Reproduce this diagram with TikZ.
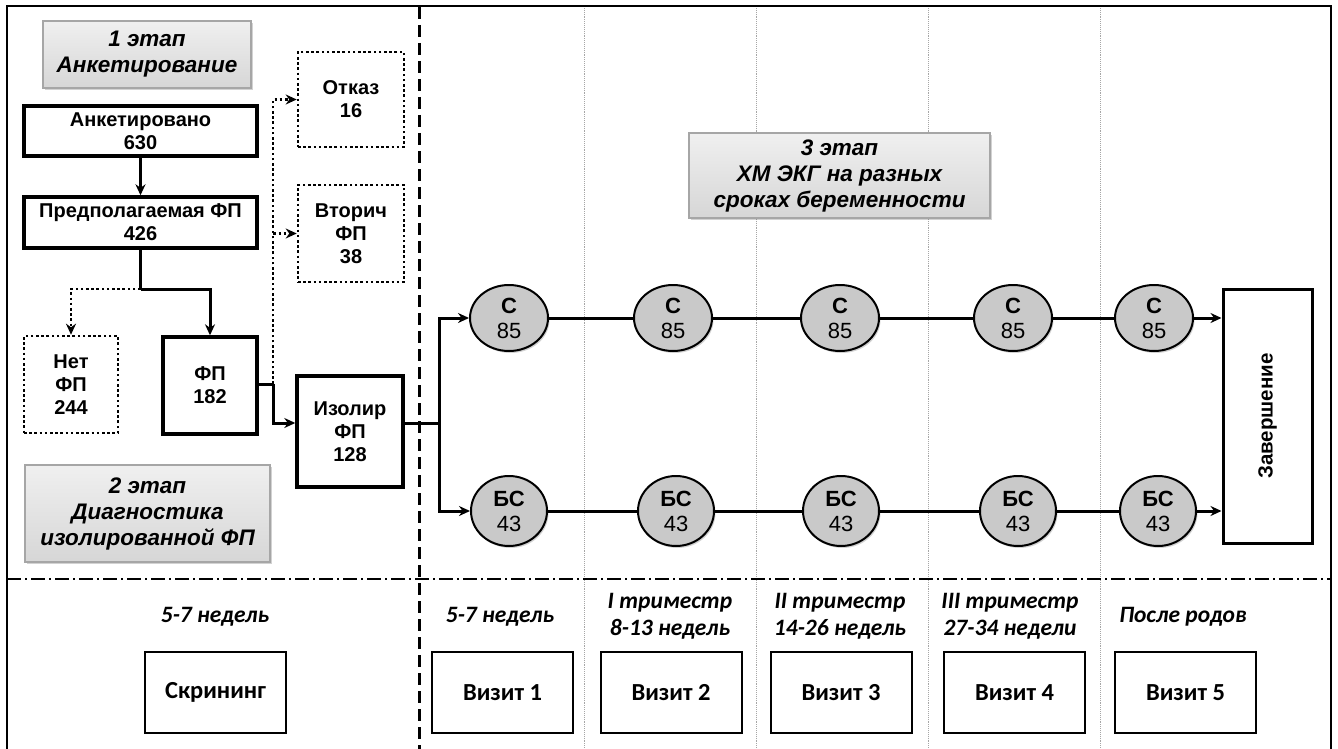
\documentclass[tikz,border=0pt]{standalone}
\usepackage{fontspec}
\setmainfont{Liberation Sans}
\newfontfamily\carl{Carlito}
\usetikzlibrary{shapes.geometric,shadows,arrows.meta,calc}
\tikzset{
  box/.style={draw, line width=3.4pt, align=center, inner sep=1pt, font=\fontsize{20}{23}\selectfont\bfseries},
  dbox/.style={box, line width=2.6pt, dash pattern=on 2.6pt off 2.6pt},
  stage/.style={draw=gray!70, line width=1.4pt, top color=gray!12, bottom color=gray!32, align=center, inner sep=1pt,
     font=\fontsize{22.5}{26}\selectfont\bfseries\itshape, drop shadow={shadow xshift=2pt, shadow yshift=-2pt, opacity=0.35}},
  ell/.style={ellipse, draw, line width=2pt, fill=gray!42, inner sep=0pt, minimum width=78pt, minimum height=66pt, align=center,
     font=\fontsize{22}{25}\selectfont, preaction={draw=white, line width=6pt},
     drop shadow={shadow xshift=1.5pt, shadow yshift=-2pt, opacity=0.35}},
  ellb/.style={ell, minimum width=76pt, minimum height=70pt},
  conn/.style={line width=3pt},
  arr/.style={conn, -{Stealth[length=11pt,width=10pt]}},
  darr/.style={line width=2.6pt, dash pattern=on 2.6pt off 2.6pt, -{Stealth[length=11pt,width=10pt]}},
  vbox/.style={draw, line width=2pt, minimum width=141pt, minimum height=81pt, font=\carl\fontsize{24.5}{28}\selectfont\bfseries},
  lab/.style={align=center, font=\carl\fontsize{23.5}{27}\selectfont\bfseries\itshape},
  gline/.style={gray!70, line width=0.9pt, densely dotted}
}
\begin{document}
\begin{tikzpicture}[x=1pt,y=-1pt]
\useasboundingbox[fill=white] (0,0) rectangle (1338,749);
% grid lines
\foreach \gx in {584,756,928,1100} \draw[gline] (\gx,8) -- (\gx,749);
\draw[line width=3pt, dash pattern=on 12pt off 6pt] (419,7) -- (419,749);
\draw[line width=1.8pt, dash pattern=on 14pt off 4pt on 2pt off 4pt] (7,579) -- (1331,579);
% frame
\draw[line width=2.4pt] (7,749) -- (7,6) -- (1331,6) -- (1331,749);

% stage boxes
\node[stage, minimum width=208pt, minimum height=67pt] (st1) at (147,54.5) {1 этап\\Анкетирование};
\node[stage, minimum width=245pt, minimum height=97pt] (st2) at (147.5,513.5) {2 этап\\Диагностика\\изолированной ФП};
\node[stage, minimum width=301pt, minimum height=85pt] (st3) at (839.5,175.5) {3 этап\\ХМ ЭКГ на разных\\сроках беременности};

% left flow
\node[box, minimum width=233pt, minimum height=50pt] (ank) at (140.5,131) {Анкетировано\\630};
\node[box, minimum width=233pt, minimum height=51pt] (pred) at (140.5,222.5) {Предполагаемая ФП\\426};
\node[dbox, minimum width=94pt, minimum height=97pt] (net) at (71,384.5) {Нет\\ФП\\244};
\node[box, minimum width=94pt, minimum height=97pt] (fp) at (210,385.5) {ФП\\182};
\node[dbox, minimum width=106pt, minimum height=95pt] (otk) at (351,99.5) {Отказ\\16};
\node[dbox, minimum width=106pt, minimum height=97pt] (vtor) at (351,233.5) {Вторич\\ФП\\38};
\node[box, minimum width=106pt, minimum height=111pt] (izo) at (350,431.5) {Изолир\\ФП\\128};

\coordinate (s1) at (140.5,289);
\coordinate (j1) at (273,384);
\coordinate (j3) at (439,423);

\draw[arr] (ank) -- (pred);
\draw[conn] (pred.south) -- (s1);
\draw[arr] (s1) -| (fp.north);
\draw[darr] (s1) -| (net.north);
\draw[conn] (fp.east |- j1) -- (j1);
\draw[arr] (j1) |- ([yshift=8.5pt]izo.west);
\draw[darr] (j1) |- (otk.west);
\draw[darr] (j1) |- (vtor.west);
\draw[conn] ([yshift=8.5pt]izo.east) -- (j3);

% ellipses
\foreach \i/\ex in {1/509,2/673,3/840,4/1013,5/1154}
  \node[ell] (c\i) at (\ex,318) {\textbf{С}\\85};
\foreach \i/\ex in {1/509,2/676,3/841,4/1018,5/1158}
  \node[ellb] (b\i) at (\ex,511) {\textbf{БС}\\43};

\node[box, line width=3pt, minimum width=89pt, minimum height=254pt] (zav) at (1267.5,416) {};
\node[rotate=90, font=\fontsize{20.5}{24}\selectfont\bfseries] (zavt) at (zav.center) {Завершение};

\draw[arr] (j3) |- (c1.west);
\draw[arr] (j3) |- (b1.west);
\draw[conn] (c1) -- (c2) -- (c3) -- (c4) -- (c5);
\draw[conn] (b1) -- (b2) -- (b3) -- (b4) -- (b5);
\draw[arr] (c5.east) -- (c5.east -| zav.west);
\draw[arr] (b5.east) -- (b5.east -| zav.west);

% bottom row
\node[lab] (l0) at (215,617) {5-7 недель};
\node[lab] (l1) at (500,617) {5-7 недель};
\node[lab] (l2) at (670,616) {I триместр\\8-13 недель};
\node[lab] (l3) at (840,616) {II триместр\\14-26 недель};
\node[lab] (l4) at (1010,616) {III триместр\\27-34 недели};
\node[lab] (l5) at (1183,617) {После родов};

\node[vbox] (scr) at (215.5,692.5) {Скрининг};
\node[vbox] (v1) at (502.5,692.5) {Визит 1};
\node[vbox] (v2) at (671,692.5) {Визит 2};
\node[vbox] (v3) at (841,692.5) {Визит 3};
\node[vbox] (v4) at (1014.5,692.5) {Визит 4};
\node[vbox] (v5) at (1185.5,692.5) {Визит 5};
\end{tikzpicture}
\end{document}
